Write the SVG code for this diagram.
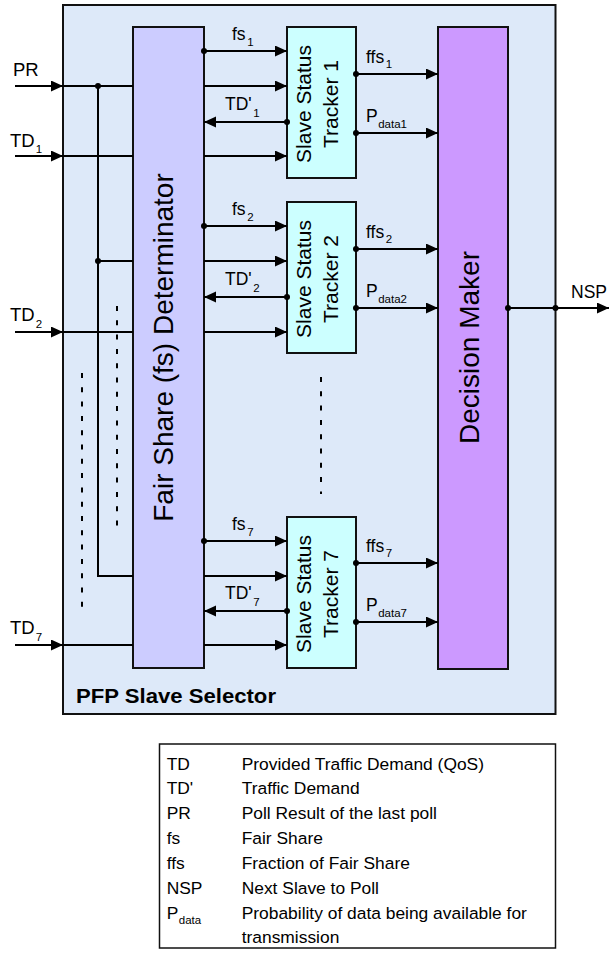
<svg xmlns="http://www.w3.org/2000/svg" width="609" height="954" viewBox="0 0 609 954">
<defs>
<marker id="ah" markerUnits="userSpaceOnUse" markerWidth="12" markerHeight="12" refX="12" refY="5.5" orient="auto">
<path d="M0,0 L12,5.5 L0,11 z" fill="#000"/>
</marker>
<style>
.box{stroke:#111;stroke-width:2}
.ln{stroke:#000;stroke-width:2;fill:none}
.ar{stroke:#000;stroke-width:2;fill:none;marker-end:url(#ah)}
.dash{stroke:#000;stroke-width:2;fill:none;stroke-dasharray:5 9.3}
.t{font-family:"Liberation Sans",Arial,sans-serif;font-size:17.5px;fill:#000}
.big{font-family:"Liberation Sans",Arial,sans-serif;font-size:18.5px;fill:#000}
.sub{font-size:11.5px}
.rot{font-family:"Liberation Sans",Arial,sans-serif;font-size:21px;fill:#000;text-anchor:middle}
.rot2{font-family:"Liberation Sans",Arial,sans-serif;font-size:28px;fill:#000;text-anchor:middle}
.lg{font-family:"Liberation Sans",Arial,sans-serif;font-size:17.4px;fill:#000}
</style>
</defs>
<rect width="609" height="954" fill="#fff"/>

<g id="selector">
<rect class="box" x="63" y="5" width="492.5" height="709" fill="#dde9f9"/>
<text x="76" y="703" font-family="'Liberation Sans',Arial,sans-serif" font-size="21px" font-weight="bold" textLength="200" lengthAdjust="spacingAndGlyphs">PFP Slave Selector</text>
</g>

<g id="fsd">
<rect class="box" x="133" y="27" width="71" height="641" fill="#ccccff"/>
<text class="rot2" transform="translate(173,347.5) rotate(-90)">Fair Share (fs) Determinator</text>
</g>

<g id="tracker1">
<rect class="box" x="287" y="27" width="69" height="151" fill="#ccffff"/>
<text class="rot" transform="translate(310.5,104) rotate(-90)"><tspan x="0" y="0">Slave Status</tspan><tspan x="0" y="27.5">Tracker 1</tspan></text>
</g>
<g id="tracker2">
<rect class="box" x="287" y="202" width="69" height="151" fill="#ccffff"/>
<text class="rot" transform="translate(310.5,279) rotate(-90)"><tspan x="0" y="0">Slave Status</tspan><tspan x="0" y="27.5">Tracker 2</tspan></text>
</g>
<g id="tracker7">
<rect class="box" x="287" y="517" width="69" height="151" fill="#ccffff"/>
<text class="rot" transform="translate(310.5,594) rotate(-90)"><tspan x="0" y="0">Slave Status</tspan><tspan x="0" y="27.5">Tracker 7</tspan></text>
</g>

<g id="decision">
<rect class="box" x="438" y="27" width="70" height="642" fill="#cc99ff"/>
<text class="rot2" transform="translate(479,347.5) rotate(-90)">Decision Maker</text>
</g>

<g id="connectors">
<line class="ar" x1="15" y1="86" x2="63" y2="86"/>
<line class="ln" x1="63" y1="86" x2="133" y2="86"/>
<polyline class="ln" points="98,86 98,576 133,576"/>
<line class="ln" x1="98" y1="261" x2="133" y2="261"/>
<circle cx="98" cy="86" r="3"/>
<circle cx="98" cy="261" r="3"/>
<line class="ar" x1="15" y1="156" x2="63" y2="156"/>
<line class="ln" x1="63" y1="156" x2="133" y2="156"/>
<line class="ar" x1="15" y1="332" x2="63" y2="332"/>
<line class="ln" x1="63" y1="332" x2="133" y2="332"/>
<line class="ar" x1="15" y1="645" x2="63" y2="645"/>
<line class="ln" x1="63" y1="645" x2="133" y2="645"/>
<line class="dash" x1="82" y1="373" x2="82" y2="607"/>
<line class="dash" x1="117" y1="306" x2="117" y2="528"/>
<line class="dash" x1="321" y1="377" x2="321" y2="494"/>
<line class="ar" x1="204" y1="51" x2="287" y2="51"/>
<circle cx="204" cy="51" r="3"/>
<line class="ar" x1="204" y1="86" x2="287" y2="86"/>
<line class="ar" x1="287" y1="122" x2="204" y2="122"/>
<circle cx="287" cy="122" r="3"/>
<line class="ar" x1="204" y1="156" x2="287" y2="156"/>
<line class="ar" x1="356" y1="74" x2="438" y2="74"/>
<circle cx="356" cy="74" r="3"/>
<line class="ar" x1="356" y1="133" x2="438" y2="133"/>
<circle cx="356" cy="133" r="3"/>
<line class="ar" x1="204" y1="226" x2="287" y2="226"/>
<circle cx="204" cy="226" r="3"/>
<line class="ar" x1="204" y1="261" x2="287" y2="261"/>
<line class="ar" x1="287" y1="297" x2="204" y2="297"/>
<circle cx="287" cy="297" r="3"/>
<line class="ar" x1="204" y1="332" x2="287" y2="332"/>
<line class="ar" x1="356" y1="249" x2="438" y2="249"/>
<circle cx="356" cy="249" r="3"/>
<line class="ar" x1="356" y1="308" x2="438" y2="308"/>
<circle cx="356" cy="308" r="3"/>
<line class="ar" x1="204" y1="541" x2="287" y2="541"/>
<circle cx="204" cy="541" r="3"/>
<line class="ar" x1="204" y1="576" x2="287" y2="576"/>
<line class="ar" x1="287" y1="611" x2="204" y2="611"/>
<circle cx="287" cy="611" r="3"/>
<line class="ar" x1="204" y1="645" x2="287" y2="645"/>
<line class="ar" x1="356" y1="563" x2="438" y2="563"/>
<circle cx="356" cy="563" r="3"/>
<line class="ar" x1="356" y1="622" x2="438" y2="622"/>
<circle cx="356" cy="622" r="3"/>
<line class="ar" x1="508" y1="308" x2="609" y2="308"/>
<circle cx="508" cy="308" r="3"/>
<circle cx="555.5" cy="308" r="3"/>
</g>

<g id="labels">
<text class="big" x="13" y="76">PR</text>
<text class="big" x="10" y="146.5">TD<tspan class="sub" dx="1" dy="6">1</tspan></text>
<text class="big" x="10" y="321">TD<tspan class="sub" dx="1" dy="6.5">2</tspan></text>
<text class="big" x="10" y="634">TD<tspan class="sub" dx="1" dy="6.5">7</tspan></text>
<text class="t" x="571" y="298">NSP</text>

<text class="t" x="232" y="40">fs<tspan class="sub" dx="1.5" dy="5.5">1</tspan></text>
<text class="t" x="225" y="110">TD'<tspan class="sub" dx="1.5" dy="7">1</tspan></text>
<text class="t" x="366" y="63">ffs<tspan class="sub" dx="1.5" dy="5">1</tspan></text>
<text class="t" x="366" y="121.7">P<tspan class="sub" dx="0.5" dy="6.3">data1</tspan></text>

<text class="t" x="232" y="215">fs<tspan class="sub" dx="1.5" dy="5.5">2</tspan></text>
<text class="t" x="225" y="285">TD'<tspan class="sub" dx="1.5" dy="7">2</tspan></text>
<text class="t" x="366" y="238">ffs<tspan class="sub" dx="1.5" dy="5">2</tspan></text>
<text class="t" x="366" y="296.7">P<tspan class="sub" dx="0.5" dy="6.3">data2</tspan></text>

<text class="t" x="232" y="530">fs<tspan class="sub" dx="1.5" dy="5.5">7</tspan></text>
<text class="t" x="225" y="599">TD'<tspan class="sub" dx="1.5" dy="7">7</tspan></text>
<text class="t" x="366" y="552">ffs<tspan class="sub" dx="1.5" dy="5">7</tspan></text>
<text class="t" x="366" y="610.7">P<tspan class="sub" dx="0.5" dy="6.3">data7</tspan></text>
</g>

<g id="legend">
<rect x="159.5" y="744" width="396" height="204" fill="#fff" stroke="#111" stroke-width="1.5"/>
<text class="lg" x="166.7" y="769.5">TD</text>
<text class="lg" x="241.7" y="769.5">Provided Traffic Demand (QoS)</text>
<text class="lg" x="166.7" y="794.4">TD'</text>
<text class="lg" x="241.7" y="794.4">Traffic Demand</text>
<text class="lg" x="166.7" y="819.2">PR</text>
<text class="lg" x="241.7" y="819.2">Poll Result of the last poll</text>
<text class="lg" x="166.7" y="844">fs</text>
<text class="lg" x="241.7" y="844">Fair Share</text>
<text class="lg" x="166.7" y="868.9">ffs</text>
<text class="lg" x="241.7" y="868.9">Fraction of Fair Share</text>
<text class="lg" x="166.7" y="893.7">NSP</text>
<text class="lg" x="241.7" y="893.7">Next Slave to Poll</text>
<text class="lg" x="166.7" y="918.6">P<tspan class="sub" dx="0.5" dy="5">data</tspan></text>
<text class="lg" x="241.7" y="918.6">Probability of data being available for</text>
<text class="lg" x="241.7" y="943.4">transmission</text>
</g>
</svg>
